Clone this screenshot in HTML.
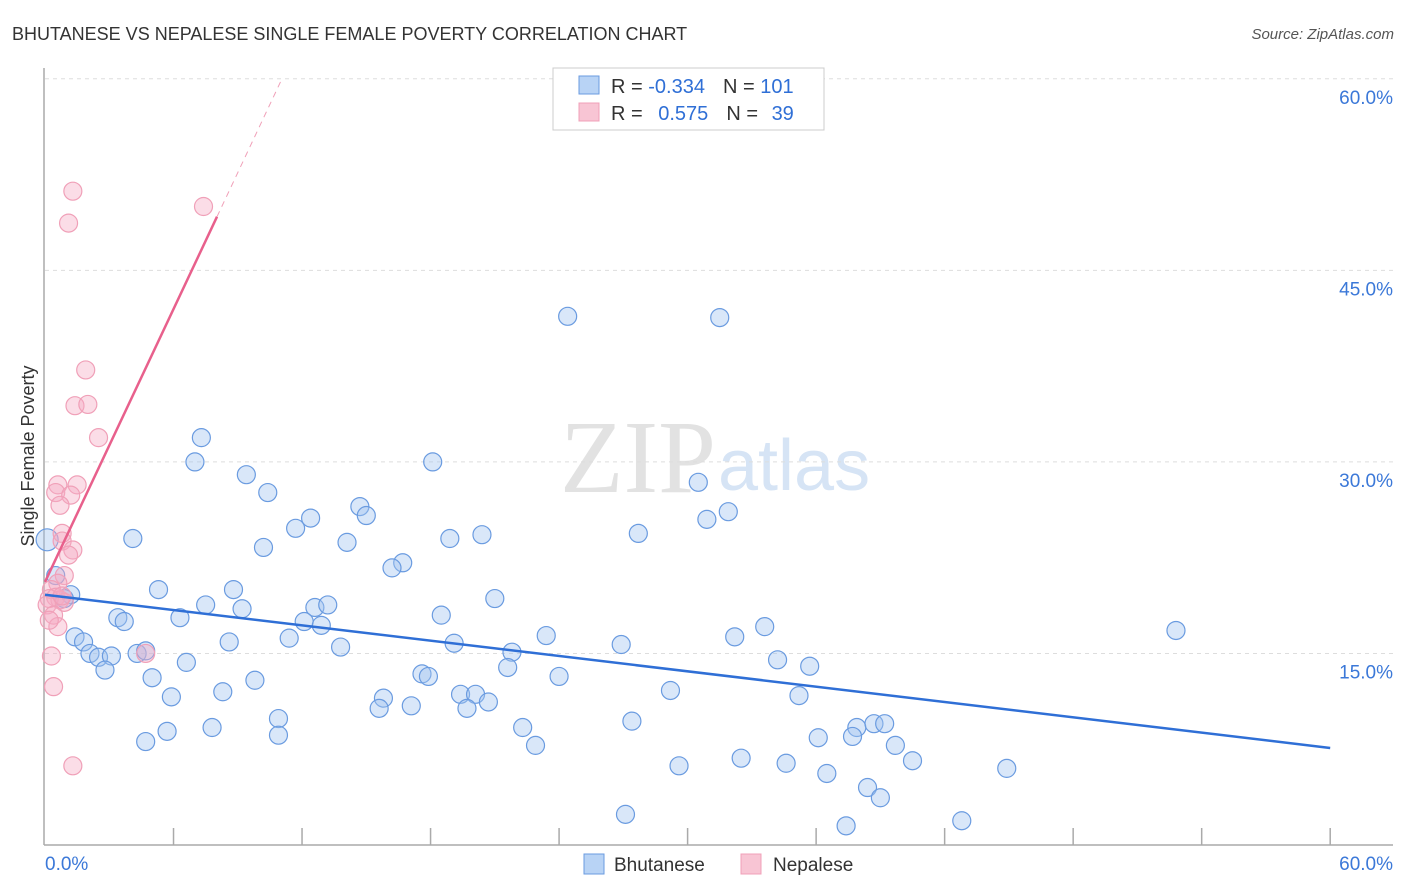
<!DOCTYPE html>
<html><head><meta charset="utf-8"><style>
body{margin:0;background:#fff;font-family:"Liberation Sans",sans-serif}
svg{display:block}
</style></head><body>
<svg id="c" width="1406" height="892">
<text x="12" y="40" font-size="18" fill="#333">BHUTANESE VS NEPALESE SINGLE FEMALE POVERTY CORRELATION CHART</text>
<text x="1394" y="39" font-size="15" fill="#555" text-anchor="end" font-style="italic">Source: ZipAtlas.com</text>
<text x="716" y="492" font-size="104" fill="#e2e2e2" text-anchor="end" font-family="Liberation Serif">ZIP</text>
<text x="718" y="490" font-size="72" fill="#d6e4f5">atlas</text>
<text x="34" y="456" font-size="18" fill="#333" text-anchor="middle" transform="rotate(-90 34 456)">Single Female Poverty</text>
<g id="grid"></g><g id="pts"></g><g id="lines"></g>
<g>
<rect x="553" y="68" width="271" height="62" fill="#fff" stroke="#ccc"/>
<rect x="579" y="76" width="20" height="18" fill="#b8d3f5" stroke="#6a9be0"/>
<rect x="579" y="103" width="20" height="18" fill="#f8c5d4" stroke="#f0a0b8"/>
<text x="611" y="93" font-size="20" fill="#333">R = <tspan fill="#2f6fd6">-0.334</tspan><tspan dx="18">N = </tspan><tspan fill="#2f6fd6">101</tspan></text>
<text x="611" y="120" font-size="20" fill="#333">R = <tspan fill="#2f6fd6" dx="10">0.575</tspan><tspan dx="18">N = </tspan><tspan fill="#2f6fd6" dx="8">39</tspan></text>
</g>
<g>
<rect x="584" y="854" width="20" height="20" fill="#b8d3f5" stroke="#6a9be0"/>
<text x="614" y="871" font-size="19" fill="#333">Bhutanese</text>
<rect x="741" y="854" width="20" height="20" fill="#f8c5d4" stroke="#f0a0b8"/>
<text x="773" y="871" font-size="19" fill="#333">Nepalese</text>
</g>
</svg>
<script>
const blueX=[24.4,31.5,7.3,7.0,18.1,9.4,30.5,10.4,14.7,15.0,12.4,31.9,30.9,11.7,20.4,27.7,4.1,14.1,18.9,10.2,16.7,16.2,0.1,0.5,5.3,8.8,1.2,0.9,21.0,7.5,12.6,13.2,9.2,18.5,3.4,3.7,6.3,12.1,12.9,33.6,52.8,23.4,32.2,1.4,1.8,8.6,11.4,19.1,26.9,13.8,2.1,2.5,3.1,4.3,4.7,21.8,34.2,35.7,6.6,2.8,21.6,17.6,17.9,24.0,5.0,9.8,29.2,8.3,5.9,15.8,19.4,20.1,35.2,20.7,15.6,17.1,19.7,10.9,27.4,22.3,37.9,38.7,39.2,7.8,5.7,10.9,37.7,36.1,4.7,22.9,39.7,32.5,40.5,34.6,29.6,44.9,36.5,38.4,39.0,27.1,42.8,37.4];
const blueY=[41.4,41.3,31.9,30.0,30.0,29.0,28.4,27.6,26.5,25.8,25.6,26.1,25.5,24.8,24.3,24.4,24.0,23.7,24.0,23.3,22.1,21.7,23.9,21.1,20.0,20.0,19.6,19.3,19.3,18.8,18.6,18.8,18.5,18.0,17.8,17.5,17.8,17.5,17.2,17.1,16.8,16.4,16.3,16.3,15.9,15.9,16.2,15.8,15.7,15.5,15.0,14.7,14.8,15.0,15.2,15.1,14.5,14.0,14.3,13.7,13.9,13.4,13.2,13.2,13.1,12.9,12.1,12.0,11.6,11.5,11.8,11.8,11.7,11.2,10.7,10.9,10.7,9.9,9.7,9.2,9.2,9.5,9.5,9.2,8.9,8.6,8.5,8.4,8.1,7.8,7.8,6.8,6.6,6.4,6.2,6.0,5.6,4.5,3.7,2.4,1.9,1.5];
const pinkX=[1.3,1.1,7.4,1.9,1.4,2.0,2.5,1.5,0.6,0.5,1.2,0.7,0.8,0.8,1.3,1.1,0.9,0.6,0.3,0.5,0.7,0.2,0.9,0.1,0.4,0.6,4.7,0.3,0.4,1.3,0.2,0.8];
const pinkY=[51.2,48.7,50.0,37.2,34.4,34.5,31.9,28.2,28.2,27.6,27.4,26.6,24.4,23.8,23.1,22.7,21.1,20.5,20.0,19.4,19.2,19.3,19.0,18.8,18.0,17.1,15.0,14.8,12.4,6.2,17.6,19.5];
const yTicks=[15,30,45,60];
const yTickLabels=["15.0%","30.0%","45.0%","60.0%"];
const blueTrend=[19.6,7.6]; // y at x=0 and x=60
const pinkTrend=[20.6,49.2,8.03]; // y at 0, y at solid end, x solid end
const NS='http://www.w3.org/2000/svg';
const X=v=>45+v*21.42, Y=v=>845-v*12.77;
function mk(t,a,p){const e=document.createElementNS(NS,t);for(const k in a)e.setAttribute(k,a[k]);p.appendChild(e);return e;}
const g=document.getElementById('grid');
yTicks.forEach((t,i)=>{
 const l=mk('line',{x1:45,x2:1393,y1:Y(t),y2:Y(t),stroke:'#ddd','stroke-dasharray':'4,4'},g);
 
 
 const tx=mk('text',{x:1393,y:Y(t)+25,'font-size':19,fill:'#3b78d8','text-anchor':'end'},g);
 tx.textContent=yTickLabels[i];
 
 
});
let a=mk('line',{x1:44,x2:44,y1:68,y2:845,stroke:'#aaa','stroke-width':1.5},g);


a=mk('line',{x1:44,x2:1393,y1:845,y2:845,stroke:'#aaa','stroke-width':1.5},g);


for(let i=1;i<=10;i++){const t=mk('line',{x1:X(i*6),x2:X(i*6),y1:828,y2:845,stroke:'#aaa','stroke-width':1.5},g);
 
 }
let t1=mk('text',{x:45,y:870,'font-size':19,fill:'#3b78d8'},g);t1.textContent='0.0%';


t1=mk('text',{x:1393,y:870,'font-size':19,fill:'#3b78d8','text-anchor':'end'},g);t1.textContent='60.0%';


const p=document.getElementById('pts');
blueX.forEach((x,i)=>{const c=mk('circle',{cx:X(x),cy:Y(blueY[i]),r:i==22?11:9,fill:'rgba(160,195,240,0.4)',stroke:'#6a9be0','stroke-width':1.2},p);
 
 });
pinkX.forEach((x,i)=>{const c=mk('circle',{cx:X(x),cy:Y(pinkY[i]),r:9,fill:'rgba(245,170,195,0.4)',stroke:'#f0a0b8','stroke-width':1.2},p);
 
 });
const L=document.getElementById('lines');
let ln=mk('line',{x1:X(0),y1:Y(blueTrend[0]),x2:X(60),y2:Y(blueTrend[1]),stroke:'#2f6fd6','stroke-width':2.5},L);


ln=mk('line',{x1:X(0),y1:Y(pinkTrend[0]),x2:X(pinkTrend[2]),y2:Y(pinkTrend[1]),stroke:'#e8608c','stroke-width':2.5},L);


const slope=(pinkTrend[1]-pinkTrend[0])/pinkTrend[2], xe=(60-pinkTrend[0])/slope;
ln=mk('line',{x1:X(pinkTrend[2]),y1:Y(pinkTrend[1]),x2:X(xe),y2:Y(60),stroke:'#f0a0b8','stroke-width':1,'stroke-dasharray':'6,5'},L);


</script>
</body></html>
